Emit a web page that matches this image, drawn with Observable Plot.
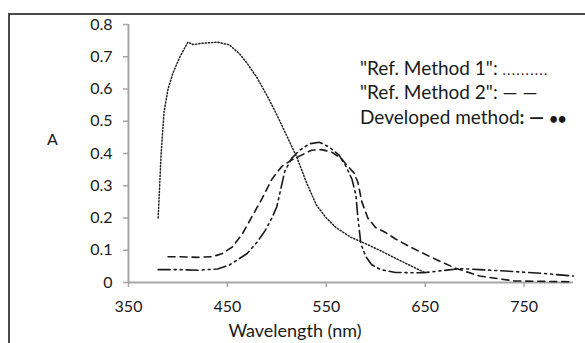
<!DOCTYPE html>
<html>
<head>
<meta charset="utf-8">
<script src="https://cdn.jsdelivr.net/npm/d3@7"></script>
<script src="https://cdn.jsdelivr.net/npm/@observablehq/plot@0.6"></script>
<style>
  html, body { margin: 0; padding: 0; background: #fff; }
  #wrap { position: relative; width: 585px; height: 343px; overflow: hidden; font-family: Lato, "Open Sans", sans-serif; color: #1a1a1a; }
  #border { position: absolute; left: 8px; top: 13px; width: 620px; height: 380px; border: 2px solid #4a4a4a; box-sizing: border-box; }
  .lbl { position: absolute; white-space: nowrap; line-height: 19px; font-size: 19px; }
  #chart { position: absolute; left: 0; top: 0; }
  .dots { font-size: 14px; letter-spacing: 1.3px; }
  .bul { font-size: 15px; font-weight: bold; }
</style>
</head>
<body>
<div id="wrap">
  <div id="border"></div>
  <div id="chart"></div>
  <div class="lbl" style="left:47px; top:131px; font-size:16px; line-height:16px;">A</div>
  <div class="lbl" id="xlab" style="left:295px; top:321px; font-size:18px; line-height:18px; transform:translateX(-50%);">Wavelength (nm)</div>
  <div class="lbl" style="left:360px; top:58px;">"Ref. Method 1": <span class="dots">..........</span></div>
  <div class="lbl" style="left:360px; top:82px;">"Ref. Method 2": — —</div>
  <div class="lbl" style="left:360px; top:107px;">Developed method<b>: —</b> <span class="bul">••</span></div>
</div>
<script>
// Ref. Method 1 (dotted)
const wl1 = [380, 383, 386, 390, 395, 402, 410, 415, 425, 440, 452, 462, 470, 480, 490, 500, 510, 520, 530, 540, 550, 560, 575, 590, 604, 620, 638, 650];
const a1  = [0.20, 0.40, 0.53, 0.60, 0.65, 0.70, 0.745, 0.738, 0.742, 0.745, 0.737, 0.71, 0.68, 0.635, 0.58, 0.52, 0.455, 0.39, 0.31, 0.24, 0.20, 0.17, 0.14, 0.12, 0.10, 0.075, 0.048, 0.03];
// Ref. Method 2 (dashed)
const wl2 = [390, 400, 420, 435, 445, 455, 465, 475, 485, 495, 505, 515, 525, 535, 545, 555, 565, 572, 578, 582, 586, 592, 600, 610, 620, 635, 655, 680, 705, 740, 800];
const a2  = [0.08, 0.08, 0.078, 0.08, 0.09, 0.11, 0.15, 0.205, 0.26, 0.32, 0.36, 0.38, 0.395, 0.41, 0.412, 0.405, 0.385, 0.36, 0.34, 0.31, 0.25, 0.20, 0.17, 0.155, 0.135, 0.11, 0.08, 0.045, 0.02, 0.005, 0.002];
// Developed method (dash-dot-dot)
const wl3 = [380, 400, 420, 440, 452, 460, 470, 480, 488, 495, 500, 504, 508, 515, 523, 533, 543, 553, 563, 570, 576, 580, 582, 585, 590, 596, 605, 620, 648, 665, 685, 705, 740, 770, 800];
const a3  = [0.04, 0.04, 0.038, 0.042, 0.054, 0.07, 0.09, 0.125, 0.16, 0.20, 0.235, 0.29, 0.345, 0.385, 0.41, 0.43, 0.435, 0.42, 0.395, 0.36, 0.32, 0.27, 0.20, 0.12, 0.08, 0.055, 0.04, 0.031, 0.03, 0.036, 0.043, 0.04, 0.034, 0.028, 0.02];

const xTicks = [350, 450, 550, 650, 750];
const yTicks = [0, 0.1, 0.2, 0.3, 0.4, 0.5, 0.6, 0.7, 0.8];

const toRows = (wl, a) => wl.map((w, i) => ({w, a: a[i]}));
const s1 = toRows(wl1, a1), s2 = toRows(wl2, a2), s3 = toRows(wl3, a3);

const axisGray = "#a6a6a6";
const chart = Plot.plot({
  width: 585,
  height: 343,
  marginLeft: 128,
  marginRight: 12,
  marginTop: 24,
  marginBottom: 61,
  style: {fontFamily: "Lato, 'Open Sans', sans-serif", background: "transparent", color: "#1a1a1a"},
  x: {domain: [350, 800]},
  y: {domain: [0, 0.8]},
  marks: [
    Plot.axisX({ticks: xTicks, tickSize: 5, tickPadding: 13, stroke: axisGray, strokeWidth: 1.5, fill: "#1a1a1a", fontSize: 16, label: null, tickFormat: d => String(d)}),
    Plot.axisY({ticks: yTicks, tickSize: 5, tickPadding: 11, stroke: axisGray, strokeWidth: 1.5, fill: "#1a1a1a", fontSize: 16, label: null, tickFormat: d => String(+d.toFixed(1))}),
    Plot.ruleY([0], {stroke: axisGray, strokeWidth: 2}),
    Plot.ruleX([350], {stroke: axisGray, strokeWidth: 2}),
    Plot.line(s1, {x: "w", y: "a", stroke: "#222", strokeWidth: 1.5, strokeDasharray: "1.2,2"}),
    Plot.line(s2, {x: "w", y: "a", stroke: "#1a1a1a", strokeWidth: 1.6, strokeDasharray: "7,5"}),
    Plot.line(s3, {x: "w", y: "a", stroke: "#1a1a1a", strokeWidth: 1.6, strokeDasharray: "12,4,2,4,2,4"})
  ]
});
document.getElementById("chart").appendChild(chart);
</script>
</body>
</html>
